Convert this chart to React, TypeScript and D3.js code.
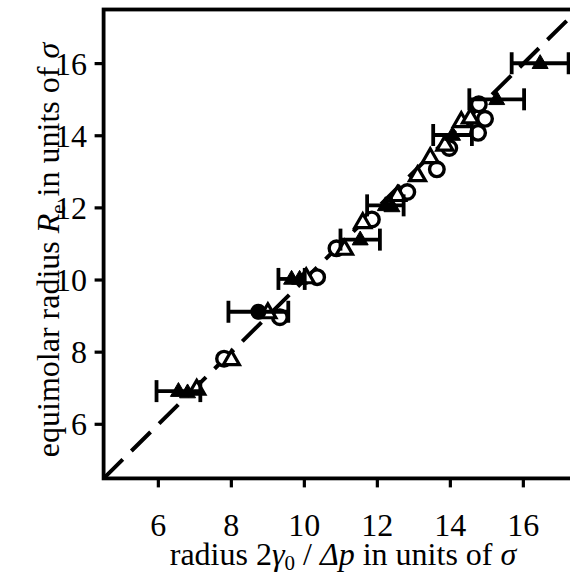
import React from "react";
import * as d3 from "d3";

const xTicks = [6, 8, 10, 12, 14, 16];
const yTicks = [6, 8, 10, 12, 14, 16];

// filled triangles with horizontal error bars: [x, y, xerr]
const filledTri: [number, number, number][] = [
  [6.55, 6.92, 0.6],
  [6.8, 6.88, 0],
  [9.65, 10.03, 0.36],
  [9.87, 10.03, 0],
  [11.53, 11.12, 0.54],
  [12.22, 12.07, 0.5],
  [12.4, 12.04, 0],
  [14.06, 14.02, 0.53],
  [15.27, 15.01, 0.75],
  [16.46, 16.01, 0.78],
];

// filled circle with error bar
const filledCirc: [number, number, number][] = [[8.74, 9.12, 0.82]];

const openTri: [number, number][] = [
  [7.05, 6.98],
  [8.0, 7.8],
  [9.0, 9.1],
  [10.05, 10.07],
  [11.1, 10.86],
  [11.6, 11.6],
  [12.55, 12.35],
  [13.1, 12.9],
  [13.45, 13.4],
  [13.85, 13.75],
  [14.3, 14.4],
  [14.55, 14.5],
];

const openCirc: [number, number][] = [
  [7.8, 7.82],
  [9.33, 8.97],
  [10.35, 10.08],
  [10.88, 10.88],
  [11.85, 11.68],
  [12.82, 12.44],
  [13.63, 13.07],
  [13.97, 13.66],
  [14.76, 14.08],
  [14.95, 14.47],
  [14.78, 14.87],
];

const domain: [number, number] = [4.5, 17.5];

export default function App() {
  const W = 570,
    H = 573;
  const left = 103.6,
    right = 578.1,
    top = 9.5,
    bottom = 478.4;
  const x = d3.scaleLinear().domain(domain).range([left, right]);
  const y = d3.scaleLinear().domain(domain).range([bottom, top]);
  const font = "'Liberation Serif', 'Times New Roman', serif";

  const triPath = (s: number) => {
    const h = (s * Math.sqrt(3)) / 2;
    return `M0,${-h * 0.62}L${s / 2},${h * 0.38}L${-s / 2},${h * 0.38}Z`;
  };

  const diag = d3
    .line<[number, number]>()
    .x((d) => x(d[0]))
    .y((d) => y(d[1]))([
    [domain[0], domain[0]],
    [domain[1], domain[1]],
  ]);

  const errBar = (cx: number, cy: number, e: number, key: string) => {
    if (!e) return null;
    const x0 = x(cx - e),
      x1 = x(cx + e),
      yy = y(cy);
    return (
      <g key={key} stroke="#000" strokeWidth={3.8}>
        <line x1={x0} x2={x1} y1={yy} y2={yy} />
        <line x1={x0} x2={x0} y1={yy - 11} y2={yy + 11} />
        <line x1={x1} x2={x1} y1={yy - 11} y2={yy + 11} />
      </g>
    );
  };

  return (
    <div style={{ position: "absolute", left: 0, top: 0 }}>
      <svg width={W} height={H} style={{ display: "block", background: "#fff" }}>
        <defs>
          <clipPath id="plot">
            <rect x={left} y={top} width={right - left} height={bottom - top} />
          </clipPath>
        </defs>
        <rect x={0} y={0} width={W} height={H} fill="#fff" />
        {/* diagonal dashed line */}
        <path
          d={diag as string}
          stroke="#000"
          strokeWidth={4}
          strokeDasharray="27,12"
          fill="none"
          clipPath="url(#plot)"
        />
        {/* open circles */}
        {openCirc.map((d, i) => (
          <circle
            key={"oc" + i}
            cx={x(d[0])}
            cy={y(d[1])}
            r={7.3}
            fill="#fff"
            stroke="#000"
            strokeWidth={3.4}
          />
        ))}
        {/* open triangles */}
        {openTri.map((d, i) => (
          <path
            key={"ot" + i}
            d={triPath(16)}
            transform={`translate(${x(d[0])},${y(d[1])})`}
            fill="#fff"
            stroke="#000"
            strokeWidth={3.2}
            strokeLinejoin="miter"
          />
        ))}
        {/* error bars */}
        {filledTri.map((d, i) => errBar(d[0], d[1], d[2], "et" + i))}
        {filledCirc.map((d, i) => errBar(d[0], d[1], d[2], "ec" + i))}
        {/* filled triangles */}
        {filledTri.map((d, i) => (
          <path
            key={"ft" + i}
            d={triPath(16)}
            transform={`translate(${x(d[0])},${y(d[1])})`}
            fill="#000"
            stroke="#000"
            strokeWidth={1}
          />
        ))}
        {filledCirc.map((d, i) => (
          <circle key={"fc" + i} cx={x(d[0])} cy={y(d[1])} r={8} fill="#000" />
        ))}
        {/* frame */}
        <rect
          x={left}
          y={top}
          width={right - left}
          height={bottom - top}
          fill="none"
          stroke="#000"
          strokeWidth={3.8}
        />
        {/* ticks */}
        {xTicks.map((t) => (
          <g key={"xt" + t}>
            <line x1={x(t)} x2={x(t)} y1={bottom} y2={bottom + 9} stroke="#000" strokeWidth={3.2} />
            <text
              x={x(t)}
              y={536}
              textAnchor="middle"
              fontFamily={font}
              fontSize={32}
              fill="#000"
            >
              {t}
            </text>
          </g>
        ))}
        {yTicks.map((t) => (
          <g key={"yt" + t}>
            <line x1={left - 9} x2={left} y1={y(t)} y2={y(t)} stroke="#000" strokeWidth={3.2} />
            <text
              x={87}
              y={y(t)}
              dy="0.35em"
              textAnchor="end"
              fontFamily={font}
              fontSize={32}
              fill="#000"
            >
              {t}
            </text>
          </g>
        ))}
        {/* x label */}
        <text x={343} y={565} textAnchor="middle" fontFamily={font} fontSize={32} fill="#000">
          radius 2<tspan fontStyle="italic">γ</tspan>
          <tspan fontSize={21} dy={5}>0</tspan>
          <tspan dy={-5}> / </tspan>
          <tspan fontStyle="italic">Δp</tspan> in units of <tspan fontStyle="italic">σ</tspan>
        </text>
        {/* y label */}
        <text
          transform={`translate(59,250) rotate(-90)`}
          textAnchor="middle"
          fontFamily={font}
          fontSize={32}
          fill="#000"
        >
          equimolar radius <tspan fontStyle="italic">R</tspan>
          <tspan fontSize={21} dy={6}>e</tspan>
          <tspan dy={-6}> in units of </tspan>
          <tspan fontStyle="italic">σ</tspan>
        </text>
      </svg>
    </div>
  );
}
